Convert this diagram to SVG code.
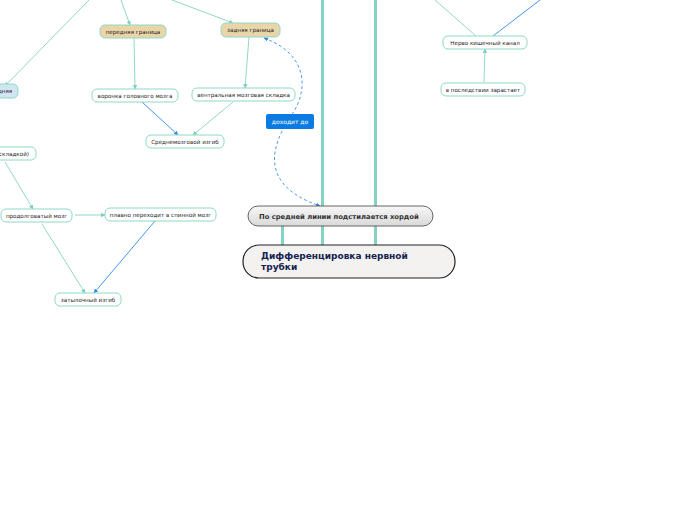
<svg xmlns="http://www.w3.org/2000/svg" width="696" height="520" viewBox="0 0 696 520">
<defs>
<linearGradient id="gGray" x1="0" y1="0" x2="0" y2="1">
<stop offset="0" stop-color="#f7f7f7"/><stop offset="1" stop-color="#d9d9d9"/>
</linearGradient>
<marker id="aT" viewBox="0 0 10 10" refX="9" refY="5" markerWidth="5" markerHeight="5" orient="auto-start-reverse"><path d="M0,0 L10,5 L0,10 z" fill="#7fd0c0"/></marker>
<marker id="aB" viewBox="0 0 10 10" refX="9" refY="5" markerWidth="5" markerHeight="5" orient="auto-start-reverse"><path d="M0,0 L10,5 L0,10 z" fill="#2f8ae8"/></marker>
</defs>
<style>
.n rect{fill:#fff;stroke:#8fd8c8;stroke-width:1}
.n text{font-family:"DejaVu Sans",sans-serif;font-size:5.6px;fill:#222;text-anchor:middle}
.tan rect{fill:#ead5a9}
.blu rect{fill:#d2e6f2}
.ct{stroke:#86d2c2;stroke-width:0.9;fill:none;marker-end:url(#aT)}
.cb{stroke:#2f8ae8;stroke-width:0.9;fill:none;marker-end:url(#aB)}
.thick{stroke:#86d2c2;stroke-width:3;fill:none}
</style>
<rect width="696" height="520" fill="#fff"/>
<g id="connectors">
<line class="thick" x1="322.5" y1="0" x2="322.5" y2="245"/>
<line class="thick" x1="375.5" y1="0" x2="375.5" y2="245"/>
<line class="thick" x1="282.5" y1="226" x2="282.5" y2="245"/>
<line class="ct" x1="89" y1="0" x2="5" y2="86"/>
<line class="ct" x1="121" y1="0" x2="130" y2="25"/>
<line class="ct" x1="172" y1="0" x2="233" y2="23"/>
<line class="ct" x1="134" y1="38" x2="135" y2="89"/>
<line class="ct" x1="249" y1="37" x2="245" y2="88"/>
<line class="cb" x1="142" y1="102" x2="178" y2="135"/>
<line class="ct" x1="233" y1="102" x2="193" y2="135"/>
<line class="ct" x1="5" y1="162" x2="33" y2="209"/>
<line class="ct" x1="75" y1="215" x2="105" y2="215"/>
<line class="ct" x1="42" y1="224" x2="85" y2="293"/>
<line class="cb" x1="155" y1="221" x2="94" y2="293"/>
<line stroke="#86d2c2" stroke-width="0.9" x1="435" y1="0" x2="476" y2="36"/>
<line stroke="#2f8ae8" stroke-width="0.9" x1="540" y1="0" x2="493" y2="36"/>
<line class="ct" x1="484" y1="82" x2="485" y2="49"/>
<path d="M264,38 C310,55 308,92 291,116 C268,150 262,186 320,206" fill="none" stroke="#3b8fe6" stroke-width="0.9" stroke-dasharray="3,2.5" marker-start="url(#aB)" marker-end="url(#aB)"/>
</g>
<g id="n-label">
<rect x="266" y="114" width="48" height="15" rx="2" fill="#0a7be2"/>
<text x="290" y="123.6" font-family="DejaVu Sans,sans-serif" font-size="6px" fill="#fff" text-anchor="middle">доходит до</text>
</g>
<g id="n-main">
<rect x="243" y="245" width="212" height="33" rx="16" fill="#f4f1f1" stroke="#222" stroke-width="1.2"/>
<text font-family="DejaVu Sans,sans-serif" font-size="9px" font-weight="bold" fill="#14234f"><tspan x="261" y="259">Дифференцировка нервной</tspan><tspan x="261" y="270">трубки</tspan></text>
</g>
<g id="n-chorda">
<rect x="248" y="206" width="185" height="20" rx="10" fill="url(#gGray)" stroke="#555" stroke-width="0.9"/>
<text x="259" y="219" font-family="DejaVu Sans,sans-serif" font-size="6.8px" font-weight="bold" fill="#333">По средней линии подстилается хордой</text>
</g>
<g id="n-pered" class="n tan"><rect x="100" y="25" width="66" height="13" rx="5"/><text x="133" y="33.5">передняя граница</text></g>
<g id="n-zad" class="n tan"><rect x="221" y="23" width="59" height="14" rx="5"/><text x="250.5" y="32">задняя граница</text></g>
<g id="n-sred" class="n blu"><rect x="-30" y="84" width="48" height="14" rx="5"/><text x="5" y="93">дняя</text></g>
<g id="n-voronka" class="n"><rect x="92" y="89" width="86" height="13" rx="5"/><text x="135" y="97.5">воронка головного мозга</text></g>
<g id="n-ventr" class="n"><rect x="192" y="88" width="103" height="13" rx="5"/><text x="243.5" y="96.5">вентральная мозговая складка</text></g>
<g id="n-srednemozg" class="n"><rect x="146" y="135" width="78" height="13" rx="5"/><text x="185" y="143.5">Среднемозговой изгиб</text></g>
<g id="n-skladkoy" class="n"><rect x="-30" y="147" width="66" height="13" rx="5"/><text x="14" y="155.5">складкой)</text></g>
<g id="n-prodolg" class="n"><rect x="1" y="209" width="71" height="13" rx="5"/><text x="36.5" y="217.5">продолговатый мозг</text></g>
<g id="n-plavno" class="n"><rect x="105" y="208" width="111" height="13" rx="5"/><text x="160.5" y="216.5">плавно переходит в спинной мозг</text></g>
<g id="n-zatyl" class="n"><rect x="55" y="293" width="66" height="13" rx="5"/><text x="88" y="301.5">затылочный изгиб</text></g>
<g id="n-nervo" class="n"><rect x="443" y="36" width="84" height="13" rx="5"/><text x="485" y="44.5">Нерво кишечный канал</text></g>
<g id="n-zarast" class="n"><rect x="441" y="83" width="84" height="13" rx="5"/><text x="483" y="91.5">в последствии зарастает</text></g>
</svg>
